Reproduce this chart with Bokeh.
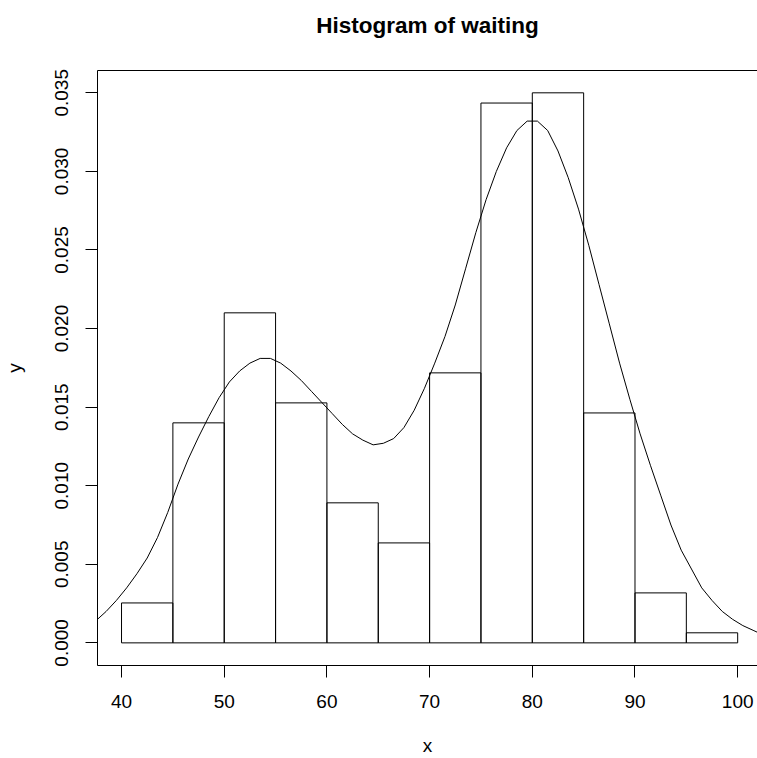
from bokeh.plotting import figure
from bokeh.models import Range1d, FixedTicker, PrintfTickFormatter, ColumnDataSource, LinearAxis
from bokeh.embed import file_html
from bokeh.resources import INLINE

# Histogram bins (waiting time) and density heights
bin_left = [40, 45, 50, 55, 60, 65, 70, 75, 80, 85, 90, 95]
bin_right = [45, 50, 55, 60, 65, 70, 75, 80, 85, 90, 95, 100]
density = [0.00254, 0.0140, 0.0210, 0.01527, 0.00891, 0.00636,
           0.01718, 0.03435, 0.0350, 0.01463, 0.00318, 0.00064]

# Overlaid density curve
curve_x = [37.66, 38.5, 39.5, 40.5, 41.5, 42.5, 43.5, 44.5, 45.5, 46.5, 47.5, 48.5,
           49.5, 50.5, 51.5, 52.5, 53.5, 54.5, 55.5, 56.5, 57.5, 58.5, 59.5, 60.5,
           61.5, 62.5, 63.5, 64.5, 65.5, 66.5, 67.5, 68.5, 69.5, 70.5, 71.5, 72.5,
           73.5, 74.5, 75.5, 76.5, 77.5, 78.5, 79.5, 80.5, 81.5, 82.5, 83.5, 84.5,
           85.5, 86.5, 87.5, 88.5, 89.5, 90.5, 91.5, 92.5, 93.5, 94.5, 95.5, 96.5,
           97.5, 98.5, 99.5, 100.5, 101.5, 101.93]
curve_y = [0.0015, 0.0020, 0.0027, 0.0035, 0.0044, 0.0054, 0.0067, 0.0083, 0.0101, 0.0117,
           0.0131, 0.0144, 0.0156, 0.0166, 0.0173, 0.0178, 0.0181, 0.0181, 0.0178, 0.0173,
           0.0167, 0.0160, 0.0153, 0.0146, 0.0139, 0.0133, 0.0129, 0.0126, 0.0127, 0.0130,
           0.0137, 0.0148, 0.0162, 0.0178, 0.0195, 0.0215, 0.0238, 0.0261, 0.0282, 0.0300,
           0.0315, 0.0326, 0.0332, 0.0332, 0.0326, 0.0313, 0.0296, 0.0276, 0.0253, 0.0228,
           0.0203, 0.0178, 0.0155, 0.0133, 0.0113, 0.0094, 0.0075, 0.0059, 0.0047, 0.0035,
           0.0027, 0.0020, 0.0015, 0.0011, 0.0008, 0.00067]

x_ticks = [40, 50, 60, 70, 80, 90, 100]
y_ticks = [0.000, 0.005, 0.010, 0.015, 0.020, 0.025, 0.030, 0.035]
title_text = "Histogram of waiting"

FONT = "Liberation Sans"

p = figure(width=757, height=758, output_backend="svg", toolbar_location=None,
           x_range=Range1d(37.66, 101.93), y_range=Range1d(-0.00144, 0.03642),
           min_border_left=97, min_border_right=0, min_border_top=70, min_border_bottom=93)

p.background_fill_color = "white"
p.border_fill_color = "white"
p.outline_line_color = None
p.xgrid.visible = False
p.ygrid.visible = False

src = ColumnDataSource(dict(left=bin_left, right=bin_right, top=density))
p.quad(left="left", right="right", bottom=0, top="top", source=src,
       fill_color="white", fill_alpha=0, line_color="black", line_width=1)

p.line(curve_x, curve_y, line_color="black", line_width=1)

xax = p.below[0]
yax = p.left[0]

for ax, ticks in ((xax, x_ticks), (yax, y_ticks)):
    ax.ticker = FixedTicker(ticks=ticks)
    ax.major_tick_out = 12
    ax.major_tick_in = 0
    ax.minor_tick_out = 0
    ax.minor_tick_in = 0
    ax.major_tick_line_color = "black"
    ax.axis_line_color = "black"
    ax.major_label_text_font = FONT
    ax.major_label_text_font_size = "19px"
    ax.major_label_text_color = "black"
    ax.axis_label_text_font = FONT
    ax.axis_label_text_font_size = "19px"
    ax.axis_label_text_font_style = "normal"
    ax.axis_label_text_color = "black"

xax.axis_label = "x"
xax.major_label_standoff = 17
xax.axis_label_standoff = 24

yax.axis_label = "y"
yax.formatter = PrintfTickFormatter(format="%.3f")
yax.major_label_orientation = "vertical"
yax.major_label_standoff = 17
yax.axis_label_standoff = 28

# top edge of the box (no right edge visible in the reference); it also carries the main title
top_axis = LinearAxis(ticker=FixedTicker(ticks=[]), major_tick_line_color=None,
                      minor_tick_line_color=None, major_tick_out=0, major_tick_in=0,
                      minor_tick_out=0, minor_tick_in=0,
                      major_label_text_font_size="0px", major_label_standoff=0,
                      axis_line_color="black", axis_line_width=1,
                      axis_label=title_text, axis_label_text_font=FONT,
                      axis_label_text_font_size="22.5px", axis_label_text_font_style="bold",
                      axis_label_text_color="black", axis_label_standoff=33)
p.add_layout(top_axis, "above")

open("out.html", "w").write(file_html(p, INLINE))
